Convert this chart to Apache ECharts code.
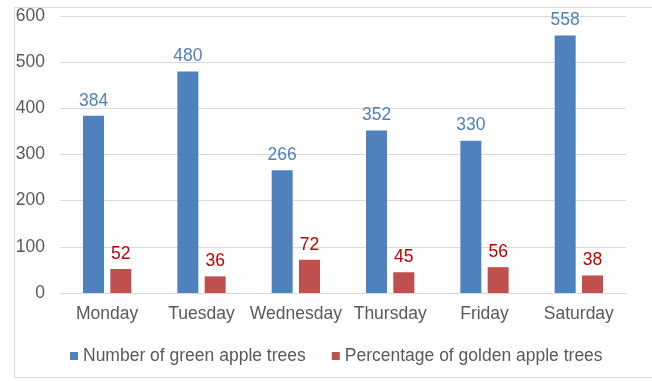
<!DOCTYPE html>
<html><head><meta charset="utf-8">
<script src="https://cdn.jsdelivr.net/npm/echarts@6/dist/echarts.min.js"></script>
<style>html,body{margin:0;padding:0;background:#fff}#c{width:652px;height:381px}</style>
</head><body><div id="c"></div>
<script>
const categories = ['Monday','Tuesday','Wednesday','Thursday','Friday','Saturday'];
const greenTrees = [384, 480, 266, 352, 330, 558];
const goldenPct = [52, 36, 72, 45, 56, 38];
const seriesNames = ['Number of green apple trees','Percentage of golden apple trees'];

const chart = echarts.init(document.getElementById('c'));
const font = 'Liberation Sans, Arial, sans-serif';
const fs = 17.5;
chart.setOption({
  animation: false,
  graphic: [{type:'rect', shape:{x:14.5,y:7.5,width:700,height:370}, style:{fill:'none',stroke:'#d9d9d9',lineWidth:1}, silent:true}],
  grid: {left:60, right:26, top:16, bottom:88},
  legend: {
    bottom: 11, left: 65, itemWidth: 8, itemHeight: 8, itemGap: 26,
    icon: 'rect',
    textStyle: {fontFamily: font, fontSize: fs, color: '#595959', padding:[0,0,0,0]},
    data: seriesNames
  },
  xAxis: {
    type: 'category', data: categories,
    axisLine: {lineStyle:{color:'#d9d9d9'}}, axisTick:{show:false},
    axisLabel: {fontFamily: font, fontSize: fs, color:'#595959', margin: 12, interval: 0}
  },
  yAxis: {
    type: 'value', min: 0, max: 600, interval: 100,
    axisLine:{show:false}, axisTick:{show:false},
    splitLine:{lineStyle:{color:'#d9d9d9'}},
    axisLabel:{fontFamily: font, fontSize: fs, color:'#595959', margin: 15}
  },
  series: [
    {name: seriesNames[0], type:'bar', data: greenTrees, barWidth: 21, barGap: '30%',
     itemStyle:{color:'#4F81BD'},
     label:{show:true, position:'top', distance:6, fontFamily: font, fontSize:fs, color:'#4F81BD'}},
    {name: seriesNames[1], type:'bar', data: goldenPct, barWidth: 21,
     itemStyle:{color:'#C0504D'},
     label:{show:true, position:'top', distance:6, fontFamily: font, fontSize:fs, color:'#C00000'}}
  ]
});
</script></body></html>
